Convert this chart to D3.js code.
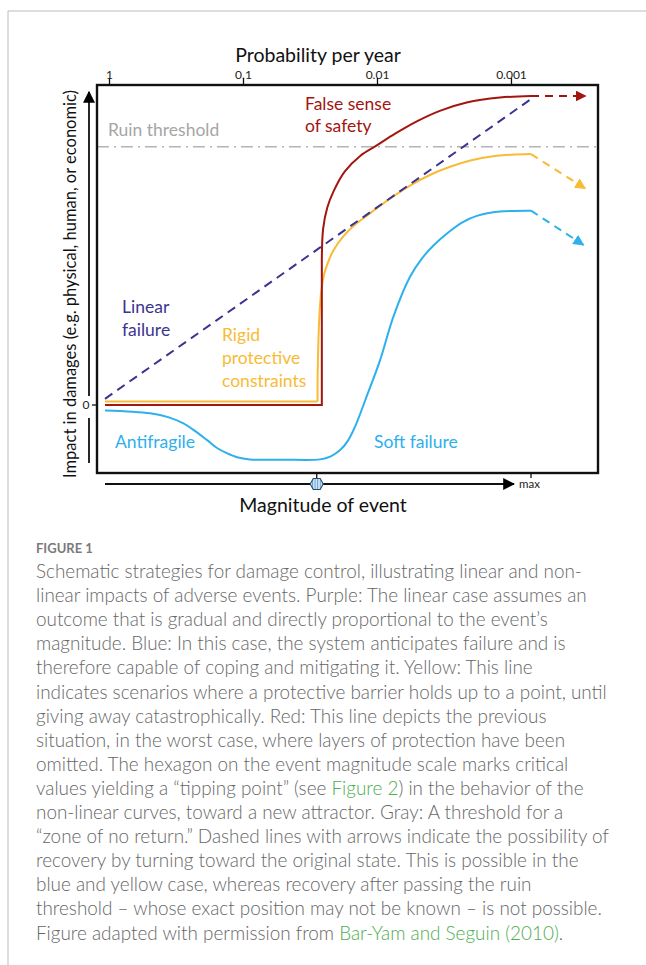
<!DOCTYPE html>
<html>
<head>
<meta charset="utf-8">
<script src="https://cdn.jsdelivr.net/npm/d3@7"></script>
<style>
  body { margin: 0; background: #fff; }
  svg text { font-family: Lato, "Open Sans", sans-serif; }
</style>
</head>
<body>
<div id="chart"></div>
<script>
// page size
var w = 646;
var h = 965;

// data (magnitude 0..100, impact 0..100)
var linearLine = [[0, 2], [100, 99]];

var redFlat = [[0, 0], [50.9, 0], [50.9, 46.9]];
var redCurve = [[50.9, 46.9], [51.2, 57], [52.2, 64], [53.7, 69.3], [56.3, 75.6], [59.9, 80.6],
    [63.8, 84], [68.1, 87.8], [73.2, 91.8], [78.6, 95.2], [84.9, 97.9], [92.7, 99.5], [100, 100]];
var redRecovery = [[100, 100], [112.8, 100]];

var yellowFlat = [[0, 1.1], [49.9, 1.1]];
var yellowCurve = [[49.9, 1.1], [49.9, 8], [50.1, 21], [50.4, 30.7], [50.8, 37.2], [51.4, 42.1],
    [52.3, 46], [53.6, 50], [55.9, 54.5], [58.7, 58.3], [61.4, 61.2], [66.4, 66.3], [71.6, 71],
    [76.5, 74.6], [81, 77.1], [86, 79.2], [91.1, 80.5], [95.5, 81], [100, 81.2]];
var yellowRecovery = [[100, 81.2], [112.7, 70.1]];

var blueCurve = [[0, -1.8], [10.6, -2.7], [15, -4], [18.3, -5.9], [21, -8.3], [23.9, -11.3], [26.4, -14],
    [28.6, -15.6], [31, -16.9], [34, -17.6], [42, -17.7], [50.5, -17.6], [53, -16.6], [55.2, -14.6],
    [57, -11.6], [58.7, -7], [61.4, 2.7], [64.6, 14.6], [67.7, 28.6], [71.6, 41.5], [74.5, 47.6],
    [77.1, 51.6], [81, 56.3], [84, 59.2], [87.3, 61.2], [92.7, 62.6], [100, 62.9]];
var blueRecovery = [[100, 62.9], [112.3, 51.8]];

var ruinThreshold = 83.6;
var tippingPoint = 49.7;
var maxMagnitude = 100;

// top axis: probability per year
var probTicks = [1, 0.1, 0.01, 0.001];
var probTickPos = [0.94, 95.3]; // magnitude positions of 1 and 0.001

// caption lines
var captionLines = [
    "Schematic strategies for damage control, illustrating linear and non-",
    "linear impacts of adverse events. Purple: The linear case assumes an",
    "outcome that is gradual and directly proportional to the event\u2019s",
    "magnitude. Blue: In this case, the system anticipates failure and is",
    "therefore capable of coping and mitigating it. Yellow: This line",
    "indicates scenarios where a protective barrier holds up to a point, until",
    "giving away catastrophically. Red: This line depicts the previous",
    "situation, in the worst case, where layers of protection have been",
    "omitted. The hexagon on the event magnitude scale marks critical",
    "values yielding a \u201ctipping point\u201d (see |Figure 2|) in the behavior of the",
    "non-linear curves, toward a new attractor. Gray: A threshold for a",
    "\u201czone of no return.\u201d Dashed lines with arrows indicate the possibility of",
    "recovery by turning toward the original state. This is possible in the",
    "blue and yellow case, whereas recovery after passing the ruin",
    "threshold \u2013 whose exact position may not be known \u2013 is not possible.",
    "Figure adapted with permission from |Bar-Yam and Seguin (2010)|."
];

// colours
var red = "#a3150f";
var yellow = "#f8bb35";
var blue = "#2db0ec";
var purple = "#3b3490";
var gray = "#b3b3b3";

// scales
var xScale = d3.scaleLinear().domain([0, 100]).range([105, 531]);
var yScale = d3.scaleLinear().domain([0, 100]).range([405, 96]);

var box = { left: 97, right: 598, top: 85, bottom: 473 };

var svg = d3.select("#chart")
    .append("svg")
    .attr("width", w)
    .attr("height", h);

// arrow markers
var defs = svg.append("defs");
function marker(id, col, size) {
    defs.append("marker")
        .attr("id", id)
        .attr("viewBox", "0 0 10 10")
        .attr("refX", 9)
        .attr("refY", 5)
        .attr("markerUnits", "userSpaceOnUse")
        .attr("markerWidth", size)
        .attr("markerHeight", size)
        .attr("orient", "auto")
        .append("path")
        .attr("d", "M0,0 L10,5 L0,10 Z")
        .attr("fill", col);
}
marker("arrRed", red, 11);
marker("arrYellow", yellow, 11);
marker("arrBlue", blue, 11);
marker("arrBlack", "#000", 12);

// hexagon stripes
var pat = defs.append("pattern")
    .attr("id", "stripes")
    .attr("patternUnits", "userSpaceOnUse")
    .attr("width", 2.6)
    .attr("height", 10);
pat.append("rect").attr("width", 2.6).attr("height", 10).attr("fill", "#d6e8f7");
pat.append("rect").attr("width", 1).attr("height", 10).attr("fill", "#5f9fd6");

// page frame
svg.append("line").attr("x1", 8).attr("x2", w).attr("y1", 11).attr("y2", 11)
    .attr("stroke", "#bbb").attr("stroke-width", 1);
svg.append("line").attr("x1", 8).attr("x2", 8).attr("y1", 11).attr("y2", h)
    .attr("stroke", "#bbb").attr("stroke-width", 1);

// ruin threshold
svg.append("line")
    .attr("x1", box.left).attr("x2", box.right)
    .attr("y1", yScale(ruinThreshold)).attr("y2", yScale(ruinThreshold))
    .attr("stroke", gray).attr("stroke-width", 1.6)
    .attr("stroke-dasharray", "12,5,2,5");

svg.append("text")
    .attr("x", 108).attr("y", 136)
    .attr("fill", "#a6a6a6").attr("font-size", 17.5)
    .text("Ruin threshold");

// lines
var line = d3.line().x(d => xScale(d[0])).y(d => yScale(d[1]));
var smooth = d3.line().x(d => xScale(d[0])).y(d => yScale(d[1])).curve(d3.curveCatmullRom.alpha(0.5));

function draw(data, gen, col, dash, arrow) {
    var p = svg.append("path")
        .datum(data)
        .attr("d", gen)
        .attr("fill", "none")
        .attr("stroke", col)
        .attr("stroke-width", 2)
        .attr("stroke-linejoin", "miter");
    if (dash) p.attr("stroke-dasharray", dash);
    if (arrow) p.attr("marker-end", "url(#" + arrow + ")");
}

draw(blueCurve, smooth, blue);
draw(blueRecovery, line, blue, "8,6", "arrBlue");
draw(yellowFlat, line, yellow);
draw(yellowCurve, smooth, yellow);
draw(yellowRecovery, line, yellow, "8,6", "arrYellow");
draw(redFlat, line, red);
draw(redCurve, smooth, red);
draw(redRecovery, line, red, "8,6", "arrRed");
draw(linearLine, line, purple, "9,6");

// plot box
svg.append("rect")
    .attr("x", box.left).attr("y", box.top)
    .attr("width", box.right - box.left).attr("height", box.bottom - box.top)
    .attr("fill", "none").attr("stroke", "#111").attr("stroke-width", 2.4);

// top axis
var probScale = d3.scaleLog()
    .domain([1, 0.001])
    .range([xScale(probTickPos[0]), xScale(probTickPos[1])]);

var topAxis = svg.append("g")
    .attr("transform", `translate(0,${box.top - 1})`)
    .call(d3.axisTop(probScale).tickValues(probTicks).tickSize(6).tickFormat(d => String(d)));
topAxis.select(".domain").remove();
topAxis.selectAll("line").attr("stroke", "#111").attr("stroke-width", 1.3);
topAxis.selectAll("text")
    .attr("font-family", "Lato, sans-serif")
    .attr("font-size", 12).attr("fill", "#222").attr("y", -5);

svg.append("text")
    .attr("x", 318).attr("y", 62)
    .attr("text-anchor", "middle").attr("font-size", 19.5).attr("fill", "#111")
    .text("Probability per year");

// y axis arrow with 0 mark
var y0 = yScale(0);
svg.append("line").attr("x1", 89).attr("x2", 89).attr("y1", 463).attr("y2", y0 + 13)
    .attr("stroke", "#111").attr("stroke-width", 1.8);
svg.append("line").attr("x1", 89).attr("x2", 89).attr("y1", y0 - 9).attr("y2", 92)
    .attr("stroke", "#111").attr("stroke-width", 1.8).attr("marker-end", "url(#arrBlack)");
svg.append("text").attr("x", 86).attr("y", y0 + 4)
    .attr("text-anchor", "middle").attr("font-size", 12).attr("fill", "#222").text("0");
svg.append("line").attr("x1", 92).attr("x2", box.left).attr("y1", y0).attr("y2", y0)
    .attr("stroke", "#111").attr("stroke-width", 1.3);

svg.append("text")
    .attr("transform", "translate(76,284) rotate(-90)")
    .attr("text-anchor", "middle").attr("font-size", 16.5).attr("fill", "#111")
    .text("Impact in damages (e.g. physical, human, or economic)");

// x axis arrow with tipping point and max
var axisY = 484;
svg.append("line").attr("x1", 105).attr("x2", 514).attr("y1", axisY).attr("y2", axisY)
    .attr("stroke", "#111").attr("stroke-width", 1.8).attr("marker-end", "url(#arrBlack)");

[tippingPoint, maxMagnitude].forEach(function(m) {
    svg.append("line")
        .attr("x1", xScale(m)).attr("x2", xScale(m))
        .attr("y1", box.bottom).attr("y2", box.bottom + 5)
        .attr("stroke", "#111").attr("stroke-width", 1.3);
});

var hx = xScale(tippingPoint);
var hexPts = [[-6.5, 0], [-3.5, -5.5], [3.5, -5.5], [6.5, 0], [3.5, 5.5], [-3.5, 5.5]];
svg.append("polygon")
    .attr("points", hexPts.map(p => [hx + p[0], axisY + p[1]].join(",")).join(" "))
    .attr("fill", "url(#stripes)")
    .attr("stroke", "#2e4a66").attr("stroke-width", 1.1);

svg.append("text").attr("x", 519).attr("y", 488)
    .attr("font-size", 11.5).attr("fill", "#222").text("max");

svg.append("text")
    .attr("x", 323).attr("y", 512)
    .attr("text-anchor", "middle").attr("font-size", 19.5).attr("fill", "#111")
    .text("Magnitude of event");

// curve labels
function label(lines, x, y, col, step) {
    var t = svg.append("text").attr("x", x).attr("y", y)
        .attr("font-size", 17.5).attr("fill", col);
    lines.forEach(function(s, i) {
        t.append("tspan").attr("x", x).attr("dy", i === 0 ? 0 : step).text(s);
    });
}
label(["False sense", "of safety"], 305, 110, red, 22);
label(["Linear", "failure"], 122, 313, purple, 23);
label(["Rigid", "protective", "constraints"], 222, 341, yellow, 23);
label(["Antifragile"], 115, 448, blue, 0);
label(["Soft failure"], 374, 448, blue, 0);

// caption
svg.append("text")
    .attr("x", 36).attr("y", 553)
    .attr("font-size", 13).attr("font-weight", 700).attr("fill", "#7a7a7a")
    .text("FIGURE 1");

var cap = svg.append("g");
captionLines.forEach(function(s, i) {
    var t = cap.append("text")
        .attr("x", 36).attr("y", 578 + i * 24.1)
        .attr("font-size", 18.9).attr("font-weight", 300).attr("fill", "#666");
    s.split("|").forEach(function(part, j) {
        t.append("tspan").attr("fill", j % 2 === 1 ? "#4cae4f" : "#666").text(part);
    });
});
</script>
</body>
</html>
